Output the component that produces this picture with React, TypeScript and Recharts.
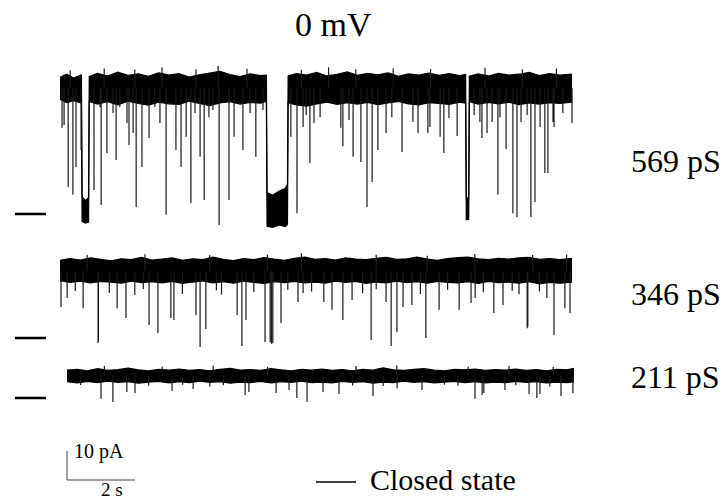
import React from "react";
import {
  Area,
  ComposedChart,
  Line,
  ReferenceLine,
  XAxis,
  YAxis,
} from "recharts";

// layout of the figure (px)
const W = 724;
const H = 503;
const PX_PER_S = 34;
const PX_PER_PA = 2.9;

// trace rows: left edge of the sweep and y of the closed level
const ROW_1 = { x0: 60, closedY: 214 };
const ROW_2 = { x0: 60, closedY: 338 };
const ROW_3 = { x0: 67, closedY: 398 };

// conductance labels
const CONDUCTANCES = ["569 pS", "346 pS", "211 pS"];

// open level (pA above closed) used as the foot of each spike
const OPEN_1 = 43.5;
const OPEN_2 = 23;
const OPEN_3 = 7.7;

// noise envelope per trace: [time s, low pA, high pA]
const band1 = [
  [0, 39.6, 47.1], [0.2, 38.4, 48.2], [0.4, 39.1, 46.9], [0.63, 38.2, 48.0],
  [0.65, -2.6, 5.9], [0.75, -3.1, 4.6], [0.84, -2.8, 5.6], [0.86, 38.8, 47.4],
  [1.1, 37.9, 48.5], [1.4, 38.7, 47.6], [1.7, 37.6, 48.9], [2.0, 38.9, 47.8],
  [2.3, 38.1, 48.3], [2.6, 37.5, 47.5], [2.9, 38.6, 48.7], [3.2, 38.0, 47.9],
  [3.5, 37.8, 48.4], [3.8, 38.9, 47.2], [4.1, 38.1, 48.0], [4.4, 37.4, 48.6],
  [4.7, 38.3, 49.2], [5.0, 38.7, 48.1], [5.3, 37.9, 47.4], [5.6, 38.5, 48.3],
  [5.9, 38.2, 47.7], [6.07, 38.9, 47.9], [6.09, -4.2, 7.4], [6.25, -4.6, 6.5],
  [6.45, -3.8, 7.9], [6.62, -4.3, 8.8], [6.69, -3.5, 10.2], [6.71, 38.4, 47.6],
  [6.95, 37.6, 48.4], [7.25, 37.2, 47.9], [7.55, 38.0, 48.8], [7.85, 38.6, 47.6],
  [8.15, 37.8, 48.2], [8.45, 38.4, 49.0], [8.75, 37.9, 47.8], [9.05, 38.5, 48.5],
  [9.35, 37.7, 48.0], [9.65, 38.3, 48.7], [9.95, 38.8, 47.5], [10.25, 38.0, 48.3],
  [10.55, 37.6, 47.9], [10.85, 38.4, 48.6], [11.15, 38.1, 47.8], [11.45, 37.8, 48.4],
  [11.75, 38.6, 47.7], [11.93, 38.2, 48.1], [11.95, -2.0, 5.8], [12.02, -1.8, 5.1],
  [12.04, 38.7, 47.5], [12.3, 37.9, 48.3], [12.6, 38.5, 47.6], [12.9, 38.0, 48.5],
  [13.2, 38.6, 47.9], [13.5, 37.7, 48.2], [13.8, 38.3, 48.8], [14.1, 37.9, 47.7],
  [14.4, 38.4, 48.4], [14.7, 38.1, 47.9], [15.06, 38.6, 48.2],
];

const band2 = [
  [0, 19.8, 26.8], [0.3, 19.2, 27.4], [0.6, 19.6, 26.9], [0.9, 19.0, 27.6],
  [1.2, 19.5, 27.1], [1.5, 19.3, 26.6], [1.8, 18.9, 27.3], [2.1, 19.6, 27.0],
  [2.4, 19.1, 27.8], [2.7, 19.4, 26.9], [3.0, 19.0, 27.2], [3.3, 19.5, 27.6],
  [3.6, 18.8, 26.8], [3.9, 19.3, 27.3], [4.2, 19.7, 27.0], [4.5, 19.0, 27.9],
  [4.8, 19.4, 27.1], [5.1, 18.9, 26.7], [5.4, 19.6, 27.4], [5.7, 19.2, 27.0],
  [6.0, 18.8, 27.7], [6.3, 19.4, 27.2], [6.6, 19.1, 26.8], [6.9, 19.5, 27.5],
  [7.2, 19.0, 27.9], [7.5, 19.3, 27.1], [7.8, 18.9, 27.4], [8.1, 19.6, 26.9],
  [8.4, 19.2, 27.6], [8.7, 19.5, 27.2], [9.0, 18.8, 27.0], [9.3, 19.3, 27.5],
  [9.6, 19.0, 27.8], [9.9, 19.6, 27.1], [10.2, 19.1, 27.3], [10.5, 19.4, 27.9],
  [10.8, 18.9, 27.2], [11.1, 19.5, 26.8], [11.4, 19.2, 27.4], [11.7, 19.0, 27.7],
  [12.0, 19.4, 27.9], [12.3, 18.8, 27.3], [12.6, 19.5, 27.0], [12.9, 19.1, 27.5],
  [13.2, 19.3, 27.2], [13.5, 18.9, 27.6], [13.8, 19.4, 27.8], [14.1, 18.7, 27.1],
  [14.4, 19.2, 27.4], [14.7, 18.9, 27.0], [15.06, 19.3, 27.5],
];

const band3 = [
  [0, 5.6, 9.6], [0.3, 5.2, 9.9], [0.6, 5.7, 9.4], [0.9, 5.3, 10.1],
  [1.2, 5.8, 9.5], [1.5, 5.4, 9.8], [1.8, 5.6, 10.3], [2.1, 5.1, 9.7],
  [2.4, 5.5, 9.4], [2.7, 5.7, 9.9], [3.0, 5.2, 9.6], [3.3, 5.6, 10.0],
  [3.6, 5.3, 9.5], [3.9, 5.8, 9.8], [4.2, 5.4, 9.4], [4.5, 5.6, 9.9],
  [4.8, 5.1, 10.2], [5.1, 5.5, 9.6], [5.4, 5.3, 9.8], [5.7, 5.7, 9.5],
  [6.0, 5.2, 10.1], [6.3, 5.6, 9.7], [6.6, 5.4, 9.4], [6.9, 5.8, 9.9],
  [7.2, 5.3, 9.6], [7.5, 5.5, 10.0], [7.8, 5.2, 9.5], [8.1, 5.7, 9.8],
  [8.4, 5.4, 9.4], [8.7, 5.6, 9.9], [9.0, 5.1, 9.6], [9.3, 5.5, 10.4],
  [9.6, 5.3, 9.7], [9.9, 5.8, 9.5], [10.2, 5.4, 9.9], [10.5, 5.6, 10.1],
  [10.8, 5.2, 9.6], [11.1, 5.5, 9.4], [11.4, 5.7, 9.9], [11.7, 5.3, 9.7],
  [12.0, 5.6, 10.0], [12.3, 5.2, 9.5], [12.6, 5.5, 9.8], [12.9, 5.3, 9.6],
  [13.2, 5.7, 10.0], [13.5, 5.4, 9.5], [13.8, 5.6, 9.8], [14.1, 5.2, 9.4],
  [14.4, 5.5, 9.9], [14.7, 5.3, 9.7], [14.91, 5.6, 10.2],
];

// brief closures: [time s, tip pA]
const spikes1 = [
  [0.06, 29.7], [0.12, 30.7], [0.24, 9.3], [0.38, 6.6], [0.47, 16.2], [0.62, 22.1],
  [1.0, 8.3], [1.18, 36.9], [1.21, 3.1], [1.38, 21.0], [1.56, 34.8], [1.65, 18.6],
  [1.76, 36.9], [1.97, 31.4], [2.03, 23.8], [2.15, 27.9], [2.24, 2.4], [2.41, 16.2],
  [2.62, 26.2], [2.79, 36.9], [2.94, 31.4], [3.12, -0.3], [3.41, 22.1], [3.56, 16.2],
  [3.71, 26.6], [3.85, 3.8], [3.97, 34.8], [4.12, 19.7], [4.24, 4.8], [4.38, 33.4],
  [4.5, 35.9], [4.68, -3.8], [4.97, 4.8], [5.12, 26.6], [5.38, 22.1], [5.59, 34.8],
  [5.76, 19.7], [5.97, 35.9], [6.79, 26.6], [6.97, 0.3], [7.15, 30.0], [7.24, 34.1],
  [7.35, 17.6], [7.47, 31.4], [7.65, 33.4], [8.26, 29.7], [8.32, 23.4], [8.5, 32.4],
  [8.62, 19.7], [8.85, 17.9], [9.03, 2.4], [9.18, 11.0], [9.35, 22.1], [9.59, 27.9],
  [9.76, 33.4], [10.06, 21.4], [10.38, 31.7], [10.53, 27.9], [10.82, 27.9], [10.88, 30.0],
  [11.18, 26.6], [11.29, 21.0], [11.44, 33.1], [11.68, 26.9], [12.18, 34.1], [12.35, 31.7],
  [12.41, 26.2], [12.56, 27.9], [12.71, 31.7], [12.88, 6.6], [12.94, 33.4], [13.12, 22.4],
  [13.32, 0.3], [13.44, -1.0], [13.56, 31.7], [13.74, 34.1], [13.85, -1.0], [13.97, 4.1],
  [14.12, 30.0], [14.26, 14.1], [14.35, 14.1], [14.5, 31.7], [14.53, 30.0], [14.79, 34.8],
  [15.06, 31.4],
];

const spikes2 = [
  [0.03, 10.7], [0.21, 13.8], [0.45, 16.2], [0.68, 10.3], [1.12, -1.7], [1.13, -1.2],
  [1.45, 15.5], [1.68, 10.3], [1.94, 6.9], [2.2, 14.8], [2.45, 16.9], [2.62, 4.5],
  [2.88, 1.7], [3.26, 6.9], [3.35, 6.2], [3.6, 15.2], [4.0, 7.9], [4.12, -3.1],
  [4.29, 3.1], [4.6, 16.5], [4.75, 15.0], [5.21, 7.9], [5.35, -2.8], [5.47, 6.2],
  [5.7, 15.9], [6.03, -1.4], [6.18, -1.5], [6.22, -2.0], [6.26, -1.8], [6.5, 5.2],
  [6.7, 16.6], [7.0, 12.4], [7.15, 15.5], [7.4, 16.0], [7.76, 12.4], [8.0, 9.7],
  [8.32, 6.2], [8.59, 13.1], [8.9, 15.4], [9.15, -0.7], [9.3, 16.8], [9.59, 12.4],
  [9.74, -2.8], [9.91, 2.1], [10.09, 10.7], [10.35, 11.4], [10.6, 15.2], [10.76, 0],
  [11.15, 9.7], [11.4, 16.6], [11.74, 9.7], [12.09, 12.1], [12.21, 13.8], [12.45, 15.8],
  [12.76, 8.6], [13.03, 11.4], [13.3, 16.3], [13.5, 15.1], [13.74, 3.4], [13.76, 4.0],
  [14.1, 16.0], [14.32, 13.8], [14.53, 1.0], [14.85, 10.3], [15.0, 8.6],
];

const spikes3 = [
  [0.4, 4.5], [1.0, -0.3], [1.35, -1.4], [1.76, 2.1], [2.0, 1.7], [2.4, 4.2],
  [3.09, 2.4], [3.4, 4.6], [3.71, 3.1], [4.2, 4.0], [4.6, 4.4], [5.24, 1.0],
  [5.35, 2.1], [6.15, 1.7], [6.53, 2.8], [6.76, 0], [7.06, -1.4], [7.53, 2.1],
  [8.0, 1.4], [8.4, 4.3], [9.0, 0.7], [9.3, 4.1], [9.71, 3.4], [10.44, 2.8],
  [11.1, 4.6], [11.5, 4.2], [12.0, -0.3], [12.21, 1.0], [12.26, 1.7], [12.88, 2.8],
  [13.2, 4.4], [13.59, 1.4], [13.82, 0], [13.91, 1.4], [14.2, 4.0], [14.53, 0.7],
  [14.88, 1.7],
];

// upward noise bristles above the open band: [time s, tip pA]
const bristles1 = [
  [0.3, 49.6], [1.3, 50.2], [2.2, 49.8], [3.0, 50.5], [4.0, 49.9], [4.65, 51.0],
  [5.5, 50.1], [7.1, 49.7], [7.9, 50.6], [8.7, 49.9], [9.8, 50.3], [10.9, 50.0],
  [12.5, 50.4], [13.6, 49.8], [14.6, 50.2],
];
const bristles2 = [
  [0.8, 28.6], [2.5, 28.9], [4.4, 28.5], [6.1, 28.8], [7.1, 29.2], [9.3, 28.7],
  [10.8, 28.4], [12.2, 29.0], [13.9, 28.6], [14.9, 28.8],
];
const bristles3 = [
  [1.1, 11.0], [2.8, 10.9], [4.3, 11.2], [5.9, 10.8], [8.5, 11.0], [9.7, 11.3],
  [11.8, 10.9], [13.0, 11.1], [14.3, 10.8],
];

// scale bar
const SCALE_PA = 10;
const SCALE_S = 2;

const bandRows = (pts: number[][]) =>
  pts.map(([t, lo, hi]) => ({ t, band: [lo, hi] }));

const spikeRows = (pts: number[][], open: number) =>
  pts.flatMap(([t, tip]) => [
    { t, v: open },
    { t, v: tip },
    { t, v: null },
  ]);

const xDomain = (x0: number) => [-x0 / PX_PER_S, (W - x0) / PX_PER_S];
const yDomain = (closedY: number) => [
  -(H - closedY) / PX_PER_PA,
  closedY / PX_PER_PA,
];

// px -> data helpers for the decorations
const tAt = (x: number, row = ROW_1) => (x - row.x0) / PX_PER_S;
const paAt = (y: number, row = ROW_1) => (row.closedY - y) / PX_PER_PA;

const serif = "'Liberation Serif', 'Times New Roman', serif";

export default function App() {
  const dashX = [tAt(15), tAt(46)];
  const barX = tAt(67);
  const barY = paAt(480, ROW_3);

  const traces = [
    { id: "1", band: band1, spikes: [...spikes1, ...bristles1], open: OPEN_1, xId: "t1" },
    { id: "2", band: band2, spikes: [...spikes2, ...bristles2], open: OPEN_2, xId: "t1" },
    { id: "3", band: band3, spikes: [...spikes3, ...bristles3], open: OPEN_3, xId: "t3" },
  ];

  return (
    <div
      style={{
        position: "absolute",
        left: 0,
        top: 0,
        width: W,
        height: H,
        background: "#fff",
      }}
    >
      <ComposedChart
        width={W}
        height={H}
        margin={{ top: 0, right: 0, bottom: 0, left: 0 }}
      >
        <XAxis
          xAxisId="t1"
          dataKey="t"
          type="number"
          domain={xDomain(ROW_1.x0)}
          allowDataOverflow
          hide
        />
        <XAxis
          xAxisId="t3"
          dataKey="t"
          type="number"
          domain={xDomain(ROW_3.x0)}
          allowDataOverflow
          hide
        />
        <YAxis yAxisId="y1" type="number" domain={yDomain(ROW_1.closedY)} allowDataOverflow hide />
        <YAxis yAxisId="y2" type="number" domain={yDomain(ROW_2.closedY)} allowDataOverflow hide />
        <YAxis yAxisId="y3" type="number" domain={yDomain(ROW_3.closedY)} allowDataOverflow hide />

        {traces.map((tr) => (
          <Area
            key={`band${tr.id}`}
            data={bandRows(tr.band)}
            dataKey="band"
            xAxisId={tr.xId}
            yAxisId={`y${tr.id}`}
            type="linear"
            stroke="#000"
            strokeWidth={1.2}
            fill="#000"
            fillOpacity={1}
            dot={false}
            activeDot={false}
            isAnimationActive={false}
          />
        ))}
        {traces.map((tr) => (
          <Line
            key={`spk${tr.id}`}
            data={spikeRows(tr.spikes, tr.open)}
            dataKey="v"
            xAxisId={tr.xId}
            yAxisId={`y${tr.id}`}
            type="linear"
            stroke="#1a1a1a"
            strokeWidth={1.2}
            dot={false}
            activeDot={false}
            connectNulls={false}
            isAnimationActive={false}
          />
        ))}

        {["y1", "y2", "y3"].map((yId) => (
          <ReferenceLine
            key={`closed${yId}`}
            xAxisId="t1"
            yAxisId={yId}
            segment={[
              { x: dashX[0], y: 0 },
              { x: dashX[1], y: 0 },
            ]}
            stroke="#000"
            strokeWidth={2.5}
          />
        ))}

        <ReferenceLine
          xAxisId="t1"
          yAxisId="y3"
          segment={[
            { x: barX, y: barY },
            { x: barX, y: barY + SCALE_PA },
          ]}
          stroke="#444"
          strokeWidth={1}
        />
        <ReferenceLine
          xAxisId="t1"
          yAxisId="y3"
          segment={[
            { x: barX, y: barY },
            { x: barX + SCALE_S, y: barY },
          ]}
          stroke="#444"
          strokeWidth={1}
        />
      </ComposedChart>

      <svg
        width={W}
        height={H}
        style={{ position: "absolute", left: 0, top: 0, pointerEvents: "none" }}
        fontFamily={serif}
        fill="#000"
      >
        <text x={295} y={36} fontSize={34}>
          0 mV
        </text>
        {CONDUCTANCES.map((label, i) => (
          <text key={label} x={631} y={[172, 305, 388][i]} fontSize={32}>
            {label}
          </text>
        ))}
        <text x={74} y={458} fontSize={20}>
          {SCALE_PA} pA
        </text>
        <text x={101} y={496} fontSize={19}>
          {SCALE_S} s
        </text>
        <line x1={316} x2={356} y1={482} y2={482} stroke="#000" strokeWidth={1.5} />
        <text x={370} y={490} fontSize={30}>
          Closed state
        </text>
      </svg>
    </div>
  );
}
